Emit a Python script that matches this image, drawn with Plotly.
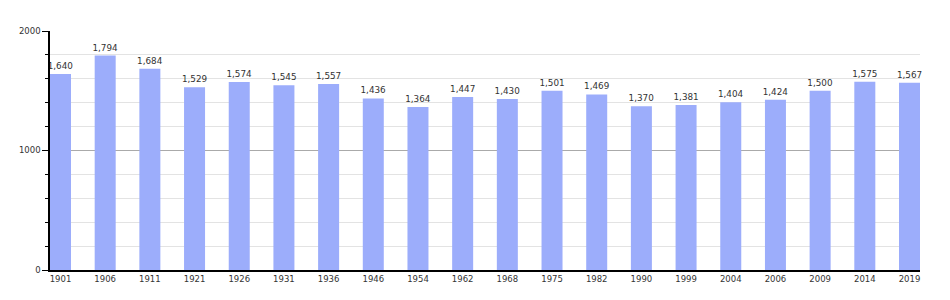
import plotly.graph_objects as go

years = ["1901", "1906", "1911", "1921", "1926", "1931", "1936", "1946", "1954", "1962",
         "1968", "1975", "1982", "1990", "1999", "2004", "2006", "2009", "2014", "2019"]
population = [1640, 1794, 1684, 1529, 1574, 1545, 1557, 1436, 1364, 1447,
              1430, 1501, 1469, 1370, 1381, 1404, 1424, 1500, 1575, 1567]
y_tick_vals = [0, 1000, 2000]
y_tick_text = ["0", "1000", "2000"]

bar_w = 0.47
fig = go.Figure(go.Bar(
    x=years, y=population, width=bar_w,
    marker=dict(color="#9cadfb", line=dict(width=0)),
    text=[f"{v:,}" for v in population],
    textposition="outside",
    constraintext="none",
    textfont=dict(family="DejaVu Sans", size=8.8, color="#333333"),
    cliponaxis=False,
))

fig.update_layout(
    width=950, height=300,
    margin=dict(l=50, r=30, t=31, b=30),
    paper_bgcolor="white", plot_bgcolor="white",
    showlegend=False,
    font=dict(family="DejaVu Sans", size=8.5, color="#333333"),
    xaxis=dict(
        type="category",
        range=[-bar_w / 2, len(years) - 1 + bar_w / 2],
        showgrid=False, showline=True, linecolor="black", linewidth=1.5,
        ticks="", ticklabelstandoff=0,
        tickfont=dict(family="DejaVu Sans", size=8.5, color="#333333"),
    ),
    yaxis=dict(
        range=[0, 2000],
        tickvals=y_tick_vals, ticktext=y_tick_text,
        showgrid=True, gridcolor="#aaaaaa", gridwidth=1,
        showline=True, linecolor="black", linewidth=1.5,
        ticks="outside", ticklen=6, tickcolor="black", tickwidth=1,
        zeroline=False,
        tickfont=dict(family="DejaVu Sans", size=8.5, color="#333333"),
        minor=dict(dtick=200, showgrid=True, gridcolor="#e3e3e3", gridwidth=1,
                   ticks="outside", ticklen=3, tickcolor="black"),
    ),
)

fig.write_html("out.html")
